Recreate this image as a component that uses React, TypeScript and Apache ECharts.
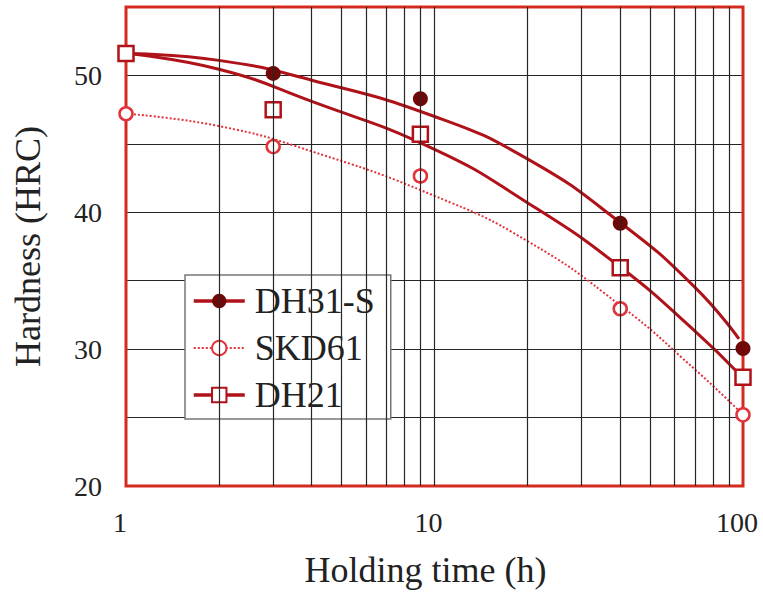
import React, { useEffect, useRef } from "react";
import * as echarts from "echarts";

// measured points
const hoursPts = [1, 3, 9, 40, 100];
const dh31sPts = [51.6, 50.15, 48.3, 39.2, 30.05];
const skd61Pts = [47.2, 44.8, 42.65, 32.95, 25.2];
const dh21Pts = [51.6, 47.5, 45.7, 35.95, 27.95];

// fitted curves
const fitHours = [1, 2, 4, 10, 20, 40, 70, 97];
const dh31sFit = [51.6, 51.1, 49.65, 47.0, 43.9, 39.25, 34.5, 30.75];
const skd61Fit = [47.2, 46.3, 44.45, 41.2, 37.9, 33.2, 28.5, 25.5];
const dh21Fit = [51.6, 50.45, 48.1, 44.6, 40.7, 36.0, 31.3, 28.2];

// log grid lines
const gridHours = [2, 3, 4, 5, 6, 7, 8, 9, 10, 20, 30, 40, 50, 60, 70, 80, 90];

const seriesNames = ["DH31-S", "SKD61", "DH21"];

const FONT = "'Liberation Serif', 'Times New Roman', serif";
const RED_BORDER = "#d42a1f";
const CURVE = "#b0121a";
const DOT = "#e2323a";
const DARK_FILL = "#700808";
const GRID_C = "#262626";

const pair = (xs: number[], ys: number[]) => xs.map((x, i) => [x, ys[i]]);

export default function App() {
  const ref = useRef<HTMLDivElement>(null);
  useEffect(() => {
    if (!ref.current) return;
    const chart = echarts.init(ref.current, null, { renderer: "svg" });
    chart.setOption({
      animation: false,
      backgroundColor: "#ffffff",
      grid: {
        left: 126,
        right: 20,
        top: 7,
        bottom: 108,
        show: true,
        borderColor: RED_BORDER,
        borderWidth: 3,
        backgroundColor: "transparent",
        z: 2,
      },
      xAxis: {
        type: "log",
        logBase: 10,
        min: 1,
        max: 100,
        name: "Holding time (h)",
        nameLocation: "middle",
        nameGap: 66,
        nameTextStyle: { fontFamily: FONT, fontSize: 36, color: "#222", padding: [0, 18, 0, 0] },
        axisLine: { show: false },
        axisTick: { show: false },
        splitLine: { show: false },
        axisLabel: { fontFamily: FONT, fontSize: 28, color: "#222", margin: 22, padding: [0, 12, 0, 0] },
        z: 0,
      },
      yAxis: {
        type: "value",
        min: 20,
        max: 55,
        interval: 5,
        name: "Hardness (HRC)",
        nameLocation: "middle",
        nameGap: 80,
        nameTextStyle: { fontFamily: FONT, fontSize: 36, color: "#222" },
        axisLine: { show: false },
        axisTick: { show: false },
        splitLine: {
          show: true,
          showMinLine: false,
          showMaxLine: false,
          lineStyle: { color: GRID_C, width: 1.2 },
        },
        axisLabel: {
          fontFamily: FONT,
          fontSize: 28,
          color: "#222",
          margin: 24,
          formatter: (v: number) => (v % 10 === 0 ? String(v) : ""),
        },
        z: 0,
      },
      legend: {
        data: [
          { name: "DH31-S", lineStyle: { width: 3.5 } },
          { name: "SKD61", lineStyle: { width: 2 } },
          { name: "DH21", lineStyle: { width: 3.5 } },
        ],
        orient: "vertical",
        left: 185,
        top: 275,
        padding: [8, 16, 6, 7],
        itemWidth: 51,
        itemHeight: 18,
        itemGap: 11,
        backgroundColor: "#ffffff",
        borderColor: "#777777",
        borderWidth: 1.5,
        borderRadius: 0,
        textStyle: { fontFamily: FONT, fontSize: 36, color: "#222", padding: [0, 0, 0, 5] },
        selectedMode: false,
      },
      series: [
        {
          type: "line",
          name: "gridlines",
          data: [],
          z: 1,
          silent: true,
          markLine: {
            silent: true,
            symbol: ["none", "none"],
            label: { show: false },
            lineStyle: { color: GRID_C, width: 1.2, type: "solid" },
            data: gridHours.map((h) => ({ xAxis: h })),
          },
        },
        {
          type: "line",
          name: seriesNames[0],
          data: pair(fitHours, dh31sFit),
          smooth: 0.5,
          showSymbol: false,
          symbol: "circle",
          symbolSize: 15,
          itemStyle: { color: DARK_FILL },
          lineStyle: { color: CURVE, width: 3 },
          z: 3,
        },
        {
          type: "line",
          name: seriesNames[1],
          data: pair(fitHours, skd61Fit),
          smooth: 0.5,
          showSymbol: false,
          symbol: "emptyCircle",
          symbolSize: 13,
          itemStyle: { color: DOT },
          lineStyle: { color: DOT, width: 2, type: "dotted" },
          z: 3,
        },
        {
          type: "line",
          name: seriesNames[2],
          data: pair(fitHours, dh21Fit),
          smooth: 0.5,
          showSymbol: false,
          symbol: "emptyRect",
          symbolSize: 15,
          itemStyle: { color: CURVE },
          lineStyle: { color: CURVE, width: 3 },
          z: 3,
        },
        {
          type: "scatter",
          name: "DH31-S pts",
          data: pair(hoursPts, dh31sPts),
          symbol: "circle",
          symbolSize: 15,
          itemStyle: { color: DARK_FILL, opacity: 1 },
          z: 4,
        },
        {
          type: "scatter",
          name: "SKD61 pts",
          data: pair(hoursPts, skd61Pts),
          symbol: "circle",
          symbolSize: 13,
          itemStyle: { color: "#ffffff", borderColor: DOT, borderWidth: 2.5, opacity: 1 },
          z: 4,
        },
        {
          type: "scatter",
          name: "DH21 pts",
          data: pair(hoursPts, dh21Pts),
          symbol: "rect",
          symbolSize: 15,
          itemStyle: { color: "#ffffff", borderColor: CURVE, borderWidth: 2.5, opacity: 1 },
          z: 4,
        },
      ],
    });
    return () => chart.dispose();
  }, []);
  return <div ref={ref} style={{ width: 763, height: 594, position: "absolute", left: 0, top: 0 }} />;
}
